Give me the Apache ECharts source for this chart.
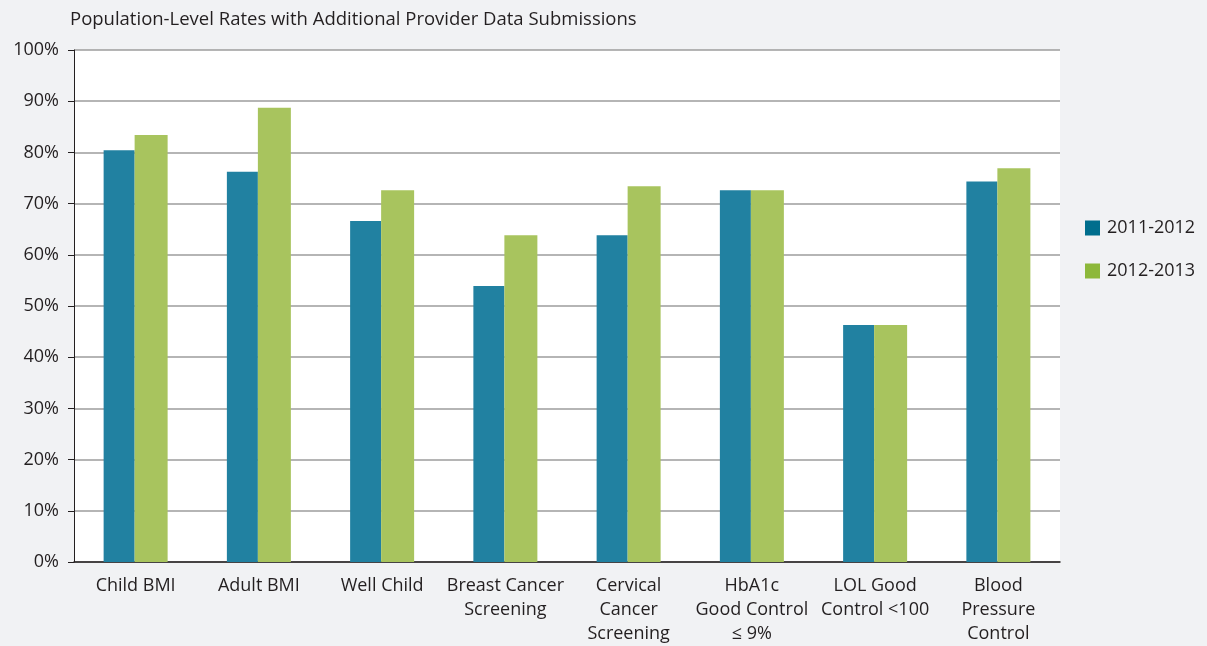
<!DOCTYPE html>
<html><head><meta charset="utf-8">
<script src="https://cdn.jsdelivr.net/npm/echarts@6/dist/echarts.min.js"></script>
<style>html,body{margin:0;padding:0;background:#f1f2f4;}#c{width:1207px;height:646px;}</style>
</head><body><div id="c"></div>
<script>
const categories = ["Child BMI","Adult BMI","Well Child","Breast Cancer\nScreening","Cervical\nCancer\nScreening","HbA1c\nGood Control\n≤ 9%","LOL Good\nControl <100","Blood\nPressure\nControl"];
const seriesNames = ["2011-2012","2012-2013"];
const values2011 = [80.4, 76.2, 66.6, 53.9, 63.8, 72.6, 46.3, 74.3];
const values2012 = [83.4, 88.7, 72.6, 63.8, 73.4, 72.6, 46.3, 76.9];
const titleText = "Population-Level Rates with Additional Provider Data Submissions";

const font = "'Open Sans', 'Noto Sans', sans-serif";
const txt = '#231f20';
const chart = echarts.init(document.getElementById('c'), null, {renderer:'canvas'});
chart.setOption({
  backgroundColor: '#f1f2f4',
  textStyle: {fontFamily: font},
  title: {text: titleText, left: 65, top: 5, textStyle: {fontSize: 18.5, fontWeight: 'normal', color: txt, fontFamily: font}},
  legend: {
    orient: 'vertical', left: 1085, top: 219, padding: 0, itemWidth: 15, itemHeight: 15, itemGap: 25,
    icon: 'rect',
    textStyle: {fontSize: 18, lineHeight: 15, color: txt, fontFamily: font, padding: [0,0,0,2]},
    data: [
      {name: seriesNames[0], itemStyle: {color: '#006e8d'}},
      {name: seriesNames[1], itemStyle: {color: '#8db83a'}}
    ]
  },
  grid: {left: 74, right: 147, top: 50, bottom: 82, show: true, backgroundColor: '#ffffff', borderWidth: 0, containLabel: false},
  xAxis: {
    type: 'category', data: categories,
    axisLine: {show: true, lineStyle: {color: txt, width: 1.5}},
    axisTick: {show: false},
    axisLabel: {fontSize: 18, color: txt, fontFamily: font, lineHeight: 24, margin: 12, interval: 0}
  },
  yAxis: {
    type: 'value', min: 0, max: 100, interval: 10,
    axisLine: {show: true, lineStyle: {color: txt, width: 1}},
    axisTick: {show: true, inside: false, length: 6, lineStyle: {color: txt}},
    axisLabel: {fontSize: 18, color: txt, fontFamily: font, margin: 15, formatter: '{value}%'},
    splitLine: {show: true, lineStyle: {color: '#9d9d9d', width: 1.5}}
  },
  series: [
    {name: seriesNames[0], type: 'bar', data: values2011, barWidth: 31, barGap: '0%', itemStyle: {color: '#2181a1'}},
    {name: seriesNames[1], type: 'bar', data: values2012, barWidth: 33, barGap: '0%', itemStyle: {color: '#a8c45e'}}
  ]
});
</script></body></html>
